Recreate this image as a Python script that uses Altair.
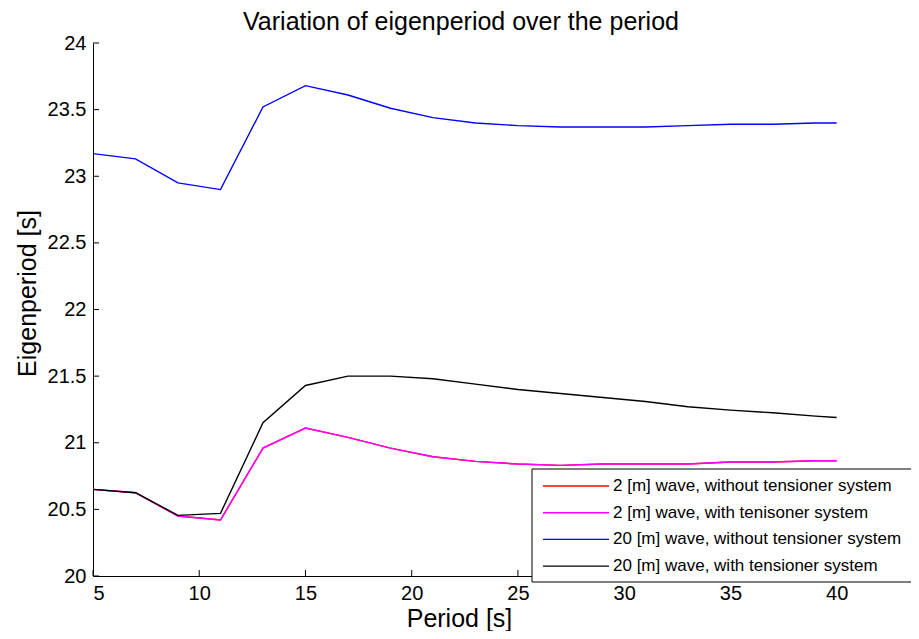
import altair as alt
import pandas as pd

# ---- data ----
periods = [5, 7, 9, 11, 13, 15, 17, 19, 21, 23, 25, 27, 29, 31, 33, 35, 37, 39, 40]

red_2m_without = [20.65, 20.625, 20.45, 20.42, 20.96, 21.11, 21.04, 20.96, 20.895, 20.86,
                  20.84, 20.83, 20.84, 20.84, 20.84, 20.855, 20.855, 20.865, 20.865]
magenta_2m_with = [20.65, 20.625, 20.45, 20.42, 20.96, 21.11, 21.04, 20.96, 20.895, 20.86,
                   20.84, 20.83, 20.84, 20.84, 20.84, 20.855, 20.855, 20.865, 20.865]
blue_20m_without = [23.17, 23.13, 22.95, 22.90, 23.52, 23.68, 23.61, 23.51, 23.44, 23.40,
                    23.38, 23.37, 23.37, 23.37, 23.38, 23.39, 23.39, 23.40, 23.40]
black_20m_with = [20.65, 20.625, 20.455, 20.47, 21.15, 21.43, 21.50, 21.50, 21.48, 21.44,
                  21.40, 21.37, 21.34, 21.31, 21.27, 21.245, 21.225, 21.20, 21.19]

series_names = [
    "2 [m] wave, without tensioner system",
    "2 [m] wave, with tenisoner system",
    "20 [m] wave, without tensioner system",
    "20 [m] wave, with tensioner system",
]
series_values = [red_2m_without, magenta_2m_with, blue_20m_without, black_20m_with]
series_colors = ["#ff0000", "#ff00ff", "#0000ff", "#000000"]

x_ticks = [5, 10, 15, 20, 25, 30, 35, 40]
y_ticks = [20, 20.5, 21, 21.5, 22, 22.5, 23, 23.5, 24]
title_text = "Variation of eigenperiod over the period"

W, H = 818, 533
FONT = "Liberation Sans"

xscale = alt.Scale(domain=[5, 43.5], nice=False, zero=False)
yscale = alt.Scale(domain=[20, 24], nice=False, zero=False)

layers = []
for name, vals, col in zip(series_names, series_values, series_colors):
    df = pd.DataFrame({"period": periods, "eig": vals})
    layers.append(
        alt.Chart(df).mark_line(color=col, strokeWidth=1.4, clip=True).encode(
            x=alt.X("period:Q", scale=xscale,
                    axis=alt.Axis(values=x_ticks, title="Period [s]", ticks=False, grid=False,
                                  domainColor="black", labelPadding=7, titleX=366, titleY=50,
                                  titleBaseline="alphabetic", titleAlign="center")),
            y=alt.Y("eig:Q", scale=yscale,
                    axis=alt.Axis(values=y_ticks, format=".1~f", title="Eigenperiod [s]",
                                  ticks=False, grid=False,
                                  domainColor="black", labelPadding=7, titleX=-66, titleY=250,
                                  titleAngle=-90, titleAlign="center", titleBaseline="middle")),
        )
    )

# inward ticks
yt = alt.Chart(pd.DataFrame({"v": y_ticks})).mark_rule(color="black", strokeWidth=1).encode(
    y=alt.Y("v:Q", scale=yscale), x=alt.value(0), x2=alt.value(6)
)
xt = alt.Chart(pd.DataFrame({"v": x_ticks})).mark_rule(color="black", strokeWidth=1).encode(
    x=alt.X("v:Q", scale=xscale), y=alt.value(H), y2=alt.value(H - 6)
)

# title as text
title = alt.Chart(pd.DataFrame({"t": [title_text]})).mark_text(
    align="center", baseline="alphabetic", font=FONT, fontSize=25, color="black"
).encode(x=alt.value(368), y=alt.value(-13), text="t:N")

# legend
leg_df = pd.DataFrame({"name": series_names, "color": series_colors, "row": [0, 1, 2, 3]})
leg_box = alt.Chart(pd.DataFrame({"a": [0]})).mark_rect(
    fill="white", stroke="black", strokeWidth=1
).encode(x=alt.value(439), x2=alt.value(830), y=alt.value(426), y2=alt.value(539))
leg_base = alt.Chart(leg_df).transform_calculate(ypix="443 + datum.row * 26.7")
leg_lines = leg_base.mark_rule(strokeWidth=1.4).encode(
    x=alt.value(450), x2=alt.value(516),
    y=alt.Y("ypix:Q", scale=None),
    color=alt.Color("color:N", scale=None),
)
leg_text = leg_base.mark_text(align="left", baseline="middle", font=FONT, fontSize=17,
                              color="black").encode(
    x=alt.value(520), y=alt.Y("ypix:Q", scale=None), text="name:N"
)

chart = alt.layer(*layers, yt, xt, title, leg_box, leg_lines, leg_text).properties(
    width=W, height=H,
    autosize=alt.AutoSizeParams(type="none"),
    padding={"left": 85, "top": 35, "right": 0, "bottom": 55},
).configure_view(stroke=None).configure_axis(
    labelFont=FONT, labelFontSize=20, labelColor="black", titleFont=FONT, titleFontSize=25,
    titleFontWeight="normal", titleColor="black", domainWidth=1
)

chart.save("out.html", embed_options={"renderer": "svg", "actions": False})
